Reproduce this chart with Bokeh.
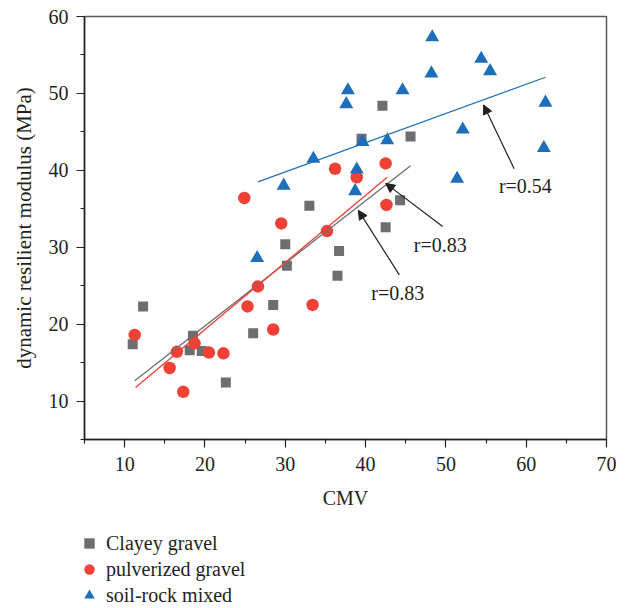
from bokeh.plotting import figure
from bokeh.layouts import column
from bokeh.models import Range1d, FixedTicker, ColumnDataSource, Arrow, NormalHead, Legend, LegendItem
from bokeh.core.properties import value
from bokeh.embed import file_html
from bokeh.resources import INLINE

# ---- data ----
clay_x = [11.0, 12.3, 18.1, 18.5, 19.6, 22.6, 26.0, 28.5, 30.0, 30.2, 33.0, 36.5, 36.7, 39.5, 42.1, 42.5, 44.3, 45.6]
clay_y = [17.4, 22.3, 16.6, 18.5, 16.5, 12.4, 18.8, 22.5, 30.4, 27.6, 35.4, 26.3, 29.5, 44.1, 48.4, 32.6, 36.1, 44.4]

pulv_x = [11.25, 15.6, 16.5, 17.3, 18.7, 20.5, 22.3, 24.9, 25.3, 26.6, 28.5, 29.5, 33.4, 35.2, 36.2, 38.9, 42.5, 42.6]
pulv_y = [18.6, 14.3, 16.4, 11.2, 17.5, 16.3, 16.2, 36.4, 22.3, 24.9, 19.3, 33.1, 22.5, 32.1, 40.2, 39.1, 40.9, 35.5]

soil_x = [26.5, 29.8, 33.5, 37.6, 37.8, 38.7, 38.9, 39.6, 42.7, 44.6, 48.2, 48.3, 51.4, 52.1, 54.4, 55.5, 62.2, 62.4]
soil_y = [28.6, 38.0, 41.5, 48.6, 50.4, 37.3, 40.1, 43.7, 43.9, 50.4, 52.6, 57.3, 38.9, 45.3, 54.5, 52.9, 42.9, 48.8]

series_names = ["Clayey gravel", "pulverized gravel", "soil-rock mixed"]

# fitted lines (end points)
clay_fit_x = [11.25, 45.6]
clay_fit_y = [12.65, 40.6]
pulv_fit_x = [11.35, 42.7]
pulv_fit_y = [11.75, 39.1]
soil_fit_x = [26.6, 62.4]
soil_fit_y = [38.5, 52.1]

# annotations
note_text = ["r=0.54", "r=0.83", "r=0.83"]
note_x = [59.9, 49.3, 44.0]
note_y = [38.0, 30.3, 24.0]
arrow_x0 = [58.5, 49.6, 44.2]
arrow_y0 = [40.2, 32.7, 26.4]
arrow_x1 = [54.7, 42.5, 39.1]
arrow_y1 = [48.5, 38.3, 34.8]

x_ticks = [10, 20, 30, 40, 50, 60, 70]
x_minor = [5, 15, 25, 35, 45, 55, 65]
y_ticks = [10, 20, 30, 40, 50, 60]
y_minor = [5, 15, 25, 35, 45, 55]

GRAY = "#6d6e71"
RED = "#ef4136"
BLUE = "#1c6fb8"
INK = "#231f20"
FONT = "Liberation Serif"

p = figure(width=628, height=520, x_range=Range1d(5, 70), y_range=Range1d(5, 60),
           output_backend="svg", toolbar_location=None, title=None,
           min_border_left=84, min_border_right=22, min_border_top=16, min_border_bottom=81)
p.grid.visible = False
p.background_fill_color = "white"
p.border_fill_color = "white"
p.outline_line_color = "#58595b"
p.outline_line_width = 1.5

for ax, maj, mnr in ((p.xaxis[0], x_ticks, x_minor), (p.yaxis[0], y_ticks, y_minor)):
    ax.ticker = FixedTicker(ticks=maj, minor_ticks=mnr)
    ax.axis_line_color = INK
    ax.axis_line_width = 1.5
    ax.major_tick_line_color = INK
    ax.minor_tick_line_color = INK
    ax.major_tick_line_width = 1.2
    ax.minor_tick_line_width = 1.2
    ax.major_tick_out = 8
    ax.major_tick_in = 0
    ax.minor_tick_out = 4
    ax.minor_tick_in = 0
    ax.major_label_text_font = FONT
    ax.major_label_text_font_size = "20px"
    ax.major_label_text_color = INK
    ax.axis_label_text_font = FONT
    ax.axis_label_text_font_size = "20px"
    ax.axis_label_text_font_style = "normal"
    ax.axis_label_text_color = INK

p.yaxis.axis_label_text_font_size = "21px"
p.xaxis.axis_label = "CMV"
p.yaxis.axis_label = "dynamic resilient modulus (MPa)"
p.xaxis.major_label_standoff = 9
p.xaxis.axis_label_standoff = 13
p.yaxis.major_label_standoff = 8
p.yaxis.axis_label_standoff = 10

p.scatter(clay_x, clay_y, marker="square", size=10, fill_color=GRAY, line_color=None)
p.scatter(pulv_x, pulv_y, marker="circle", size=12.5, fill_color=RED, line_color=None)
p.scatter(soil_x, soil_y, marker="triangle", size=14, fill_color=BLUE, line_color=None)

p.line(clay_fit_x, clay_fit_y, line_color=GRAY, line_width=1.3)
p.line(pulv_fit_x, pulv_fit_y, line_color=RED, line_width=1.3)
p.line(soil_fit_x, soil_fit_y, line_color=BLUE, line_width=1.3)

asrc = ColumnDataSource(dict(x0=arrow_x0, y0=arrow_y0, x1=arrow_x1, y1=arrow_y1))
p.add_layout(Arrow(end=NormalHead(size=9, fill_color=INK, line_color=INK, line_width=1),
                   x_start="x0", y_start="y0", x_end="x1", y_end="y1", source=asrc,
                   line_color=INK, line_width=1.2))

tsrc = ColumnDataSource(dict(x=note_x, y=note_y, t=note_text))
p.text(x="x", y="y", text="t", source=tsrc, text_font=value(FONT), text_font_size="20px",
       text_align="center", text_baseline="middle", text_color=INK)

# ---- legend strip below the chart (series renderers kept out of its view) ----
lf = figure(width=628, height=88, x_range=Range1d(-2, -1), y_range=Range1d(-2, -1),
            output_backend="svg", toolbar_location=None, title=None,
            x_axis_location=None, y_axis_location=None,
            min_border_left=84, min_border_right=22, min_border_top=0, min_border_bottom=0)
lf.grid.visible = False
lf.outline_line_color = None
lf.background_fill_color = "white"
lf.border_fill_color = "white"

r1 = lf.scatter(clay_x, clay_y, marker="square", size=10, fill_color=GRAY, line_color=None)
r2 = lf.scatter(pulv_x, pulv_y, marker="circle", size=12, fill_color=RED, line_color=None)
r3 = lf.scatter(soil_x, soil_y, marker="triangle", size=13, fill_color=BLUE, line_color=None)

lg = Legend(items=[LegendItem(label=n, renderers=[r]) for n, r in zip(series_names, [r1, r2, r3])],
            location=(-8, 0), padding=0, margin=0, spacing=0,
            glyph_width=26, glyph_height=26, label_height=26, label_standoff=4,
            border_line_color=None, background_fill_alpha=0,
            label_text_font=FONT, label_text_font_size="20px", label_text_color=INK)
lf.add_layout(lg)

layout = column(p, lf, spacing=0)
open("out.html", "w").write(file_html(layout, INLINE))
